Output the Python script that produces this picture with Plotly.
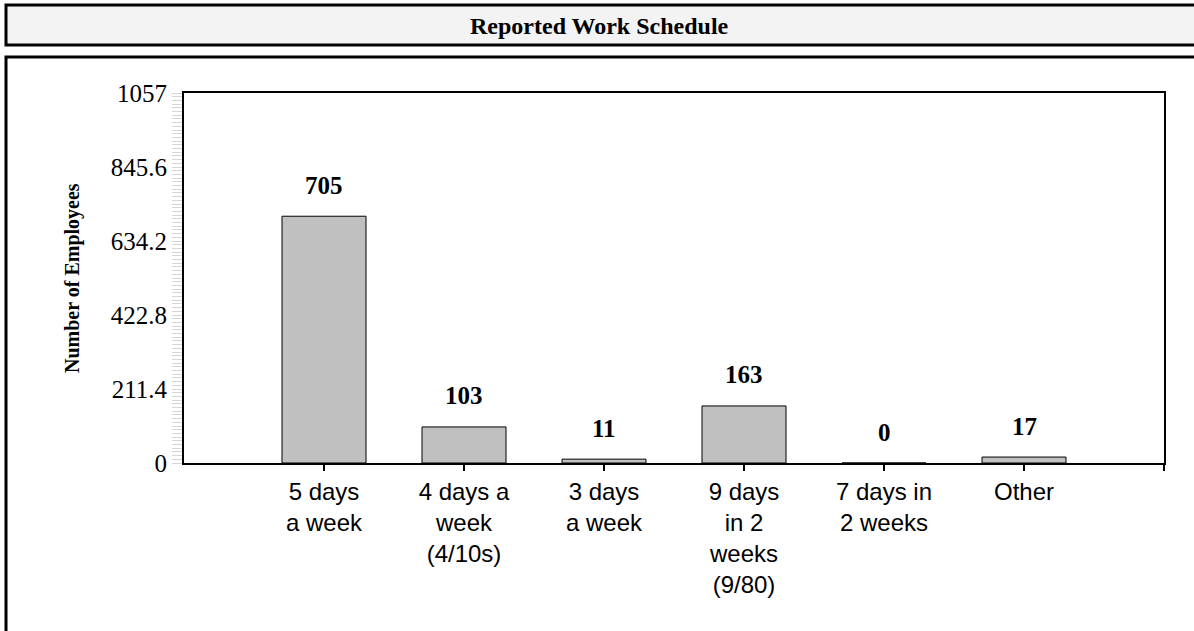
import plotly.graph_objects as go

categories = ["5 days<br>a week", "4 days a<br>week<br>(4/10s)", "3 days<br>a week",
              "9 days<br>in 2<br>weeks<br>(9/80)", "7 days in<br>2 weeks", "Other"]
values = [705, 103, 11, 163, 0, 17]
y_ticks = [0, 211.4, 422.8, 634.2, 845.6, 1057]
y_tick_text = ["0", "211.4", "422.8", "634.2", "845.6", "1057"]
title_text = "Reported Work Schedule"
y_title = "Number of Employees"

idx = list(range(len(categories)))

fig = go.Figure()
fig.add_trace(go.Bar(
    x=idx, y=values, width=0.6,
    marker=dict(color="#c0c0c0", line=dict(color="black", width=1)),
    hoverinfo="skip",
))

for i, v in zip(idx, values):
    fig.add_annotation(x=i, y=v, text="<b>%d</b>" % v, showarrow=False,
                       yanchor="middle", yshift=31,
                       font=dict(family="Liberation Serif", size=25, color="black"))

W, H = 1194, 631
L, R, T, B = 184, 30, 93, 168
pw, ph = W - L - R, H - T - B

def px_x(p):
    return (p - L) / pw

def px_y(p):
    return (H - B - p) / ph

# title box
fig.add_shape(type="rect", xref="paper", yref="paper",
              x0=px_x(6), x1=px_x(1210), y0=px_y(45), y1=px_y(5),
              fillcolor="#f3f3f3", line=dict(color="black", width=3), layer="below")
# chart box
fig.add_shape(type="rect", xref="paper", yref="paper",
              x0=px_x(6), x1=px_x(1210), y0=px_y(660), y1=px_y(57),
              fillcolor="white", line=dict(color="black", width=3), layer="below")

fig.add_annotation(xref="paper", yref="paper", x=0.5 * (px_x(5) + px_x(1194)), y=px_y(26),
                   text="<b>%s</b>" % title_text, showarrow=False,
                   xanchor="center", yanchor="middle",
                   font=dict(family="Liberation Serif", size=24, color="black"))
fig.add_annotation(xref="paper", yref="paper", x=px_x(72), y=0.5,
                   text="<b>%s</b>" % y_title, showarrow=False, textangle=-90,
                   xanchor="center", yanchor="middle",
                   font=dict(family="Liberation Serif", size=20, color="black"))

fig.update_layout(
    width=W, height=H,
    margin=dict(l=L, r=R, t=T, b=B),
    paper_bgcolor="white", plot_bgcolor="white",
    showlegend=False,
    xaxis=dict(
        range=[-1, 6], tickvals=idx + [6], ticktext=categories + [""],
        showgrid=False, zeroline=False,
        showline=True, linecolor="black", linewidth=2, mirror=True,
        ticks="outside", ticklen=6, tickcolor="black", tickwidth=2,
        tickfont=dict(family="Liberation Sans", size=24, color="black"),
    ),
    yaxis=dict(
        range=[0, 1057], tickvals=y_ticks, ticktext=y_tick_text,
        showgrid=False, zeroline=False,
        showline=True, linecolor="black", linewidth=2, mirror=True,
        ticks="outside", ticklen=10, tickcolor="#d6d6d6", tickwidth=1,
        ticklabelstandoff=0,
        minor=dict(ticks="outside", ticklen=10, tickcolor="#d6d6d6", tickwidth=1,
                   dtick=10.57, tick0=0, showgrid=False),
        tickfont=dict(family="Liberation Serif", size=25, color="black"),
    ),
)

fig.write_html("out.html", config={"displayModeBar": False},
               post_script="document.body.style.margin='0';document.body.style.overflow='hidden';")
